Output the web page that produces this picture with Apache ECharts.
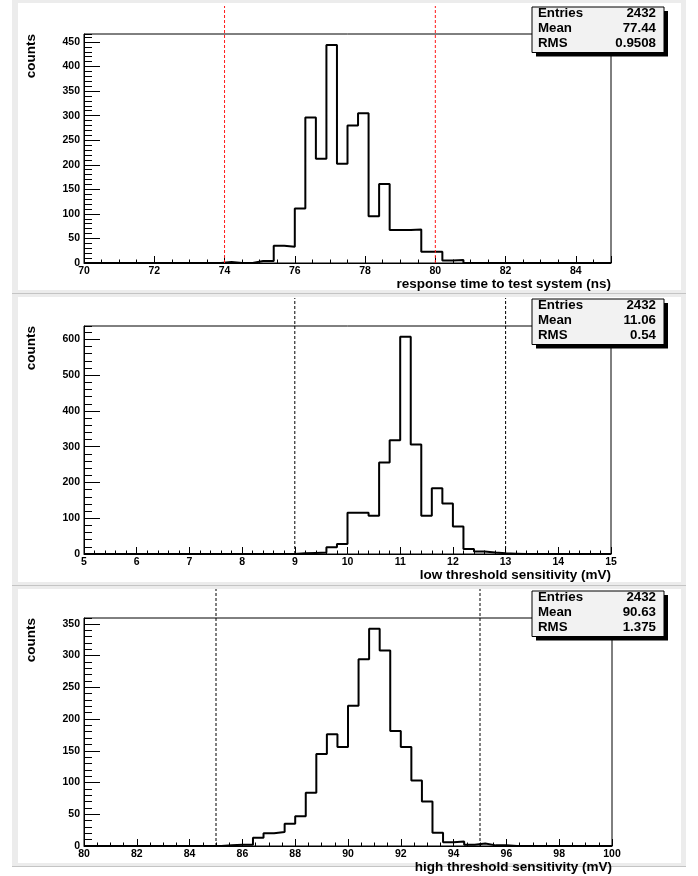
<!DOCTYPE html>
<html>
<head>
<meta charset="utf-8">
<script src="https://cdn.jsdelivr.net/npm/echarts@6/dist/echarts.min.js"></script>
<style>
html,body{margin:0;padding:0;background:#fff;}
#c{width:698px;height:876px;}
</style>
</head>
<body>
<div id="c"></div>
<script>
// ---------- DATA ----------
// Panel 1: response time
const p1Title = 'response time to test system (ns)';
const p1Range = [70, 85];
const p1BinWidth = 0.3;
const p1Counts = [0,0,0,0,0,0,0,0,0,0,0,0,0,2,0,0,4,4,35,33,111,296,212,444,202,280,305,95,161,67,67,68,23,23,5,6,0,0,0,0,0,0,0,0,0,0,0,0,0,0];
const p1Cuts = [74, 80];
const p1StatLabels = ['Entries', 'Mean', 'RMS'];
const p1StatValues = ['2432', '77.44', '0.9508'];
const p1XTicks = [2, 0.5];   // major, minor step
const p1YTicks = [50, 10];

// Panel 2: low threshold
const p2Title = 'low threshold sensitivity (mV)';
const p2Range = [5, 15];
const p2BinWidth = 0.2;
const p2Counts = [0,0,0,0,0,0,0,0,0,0,0,0,0,0,0,0,0,0,0,0,2,3,4,19,28,115,115,107,256,318,607,306,107,184,141,77,14,7,4,2,1,0,0,0,0,0,0,0,0,0];
const p2Cuts = [9, 13];
const p2StatLabels = ['Entries', 'Mean', 'RMS'];
const p2StatValues = ['2432', '11.06', '0.54'];
const p2XTicks = [1, 0.2];
const p2YTicks = [100, 20];

// Panel 3: high threshold
const p3Title = 'high threshold sensitivity (mV)';
const p3Range = [80, 100];
const p3BinWidth = 0.4;
const p3Counts = [0,0,0,0,0,0,0,0,0,0,0,0,0,1,2,2,13,20,22,35,47,84,145,176,156,221,294,342,308,181,156,103,70,21,6,7,2,4,1,1,0,0,0,0,0,0,0,0,0,0];
const p3Cuts = [85, 95];
const p3StatLabels = ['Entries', 'Mean', 'RMS'];
const p3StatValues = ['2432', '90.63', '1.375'];
const p3XTicks = [2, 0.5];
const p3YTicks = [50, 10];

const yTitle = 'counts';

// ---------- LAYOUT ----------
const FONT = '"Liberation Sans", Arial, Helvetica, sans-serif';
const panels = [
  {title:p1Title, range:p1Range, bw:p1BinWidth, counts:p1Counts, cuts:p1Cuts, cutColor:'#ff1a1a',
   sl:p1StatLabels, sv:p1StatValues, xt:p1XTicks, yt:p1YTicks,
   top:34, h:229, w:527, cutTop:6, boxTop:7, bgTop:0, bgBot:293},
  {title:p2Title, range:p2Range, bw:p2BinWidth, counts:p2Counts, cuts:p2Cuts, cutColor:'#000',
   sl:p2StatLabels, sv:p2StatValues, xt:p2XTicks, yt:p2YTicks,
   top:326, h:228, w:527, cutTop:298, boxTop:299, bgTop:294, bgBot:585},
  {title:p3Title, range:p3Range, bw:p3BinWidth, counts:p3Counts, cuts:p3Cuts, cutColor:'#000',
   sl:p3StatLabels, sv:p3StatValues, xt:p3XTicks, yt:p3YTicks,
   top:618, h:228, w:528, cutTop:589, boxTop:591, bgTop:586, bgBot:866}
];

function isMult(v, step){ const r = v/step; return Math.abs(r - Math.round(r)) < 1e-6; }

const grids = [], xAxes = [], yAxes = [], series = [], graphics = [];
const labelStyle = {color:'#000', fontWeight:'bold', fontSize:10.5, fontFamily:FONT};

// backgrounds
panels.forEach(p => {
  graphics.push({type:'rect', z:-20, silent:true, shape:{x:12, y:p.bgTop, width:674, height:p.bgBot - p.bgTop}, style:{fill:'#ececec'}});
  graphics.push({type:'rect', z:-19, silent:true, shape:{x:18, y:p.bgTop + 3, width:663, height:p.bgBot - p.bgTop - 6}, style:{fill:'#ffffff'}});
  graphics.push({type:'line', z:-18, silent:true, shape:{x1:12, y1:p.bgBot + 0.5, x2:686, y2:p.bgBot + 0.5}, style:{stroke:'#c4c4c4', lineWidth:1}});
});

panels.forEach((p, i) => {
  grids.push({left:84, top:p.top, width:p.w, height:p.h, show:true, borderColor:'#000', borderWidth:1, backgroundColor:'transparent'});
});
panels.forEach((p, i) => {
  grids.push({left:84, top:p.cutTop, width:p.w, height:p.top + p.h - p.cutTop});
});

panels.forEach((p, i) => {
  const ymax = Math.max.apply(null, p.counts) * 1.05;
  // major x
  xAxes.push({type:'value', gridIndex:i, position:'bottom', min:p.range[0], max:p.range[1], interval:p.xt[0],
    axisLine:{show:true, onZero:false, lineStyle:{color:'#000', width:1}},
    axisTick:{show:true, inside:true, length:7, lineStyle:{color:'#000', width:1}},
    axisLabel:Object.assign({margin:3, formatter:(v)=> isMult(v, p.xt[0]) ? String(Math.round(v*1000)/1000) : ''}, labelStyle),
    splitLine:{show:false}});
  // minor x
  xAxes.push({type:'value', gridIndex:i, position:'bottom', min:p.range[0], max:p.range[1], interval:p.xt[1],
    axisLine:{show:false, onZero:false}, axisLabel:{show:false},
    axisTick:{show:true, inside:true, length:3.5, lineStyle:{color:'#000', width:1}},
    splitLine:{show:false}});
  // overlay x for cut lines
  xAxes.push({type:'value', gridIndex:3 + i, min:p.range[0], max:p.range[1], show:false});

  // major y
  yAxes.push({type:'value', gridIndex:i, position:'left', min:0, max:ymax, interval:p.yt[0],
    axisLine:{show:true, onZero:false, lineStyle:{color:'#000', width:1}},
    axisTick:{show:true, inside:true, length:16, lineStyle:{color:'#000', width:1}},
    axisLabel:Object.assign({margin:4, showMaxLabel:false, formatter:(v)=> isMult(v, p.yt[0]) ? String(Math.round(v)) : ''}, labelStyle),
    splitLine:{show:false}});
  // minor y
  yAxes.push({type:'value', gridIndex:i, position:'left', min:0, max:ymax, interval:p.yt[1],
    axisLine:{show:false, onZero:false}, axisLabel:{show:false},
    axisTick:{show:true, inside:true, length:8, lineStyle:{color:'#000', width:1}},
    splitLine:{show:false}});
  // overlay y
  yAxes.push({type:'value', gridIndex:3 + i, min:0, max:1, show:false});

  // histogram as step outline
  const pts = [];
  for (let k = 0; k < p.counts.length; k++) {
    pts.push([+(p.range[0] + k * p.bw).toFixed(4), p.counts[k]]);
  }
  pts.push([p.range[1], p.counts[p.counts.length - 1]]);
  series.push({type:'line', xAxisIndex:3*i, yAxisIndex:3*i, data:pts, step:'end', symbol:'none', showSymbol:false,
    lineStyle:{color:'#000', width:2}, z:5, silent:true, animation:false});

  // cut lines
  p.cuts.forEach(c => {
    series.push({type:'line', xAxisIndex:3*i + 2, yAxisIndex:3*i + 2, data:[[c, 0], [c, 1]], symbol:'none', showSymbol:false,
      lineStyle:{color:p.cutColor, width:1, type:[3, 2]}, z:6, silent:true, animation:false, clip:false});
  });

  // axis titles
  graphics.push({type:'text', z:50, x:84 + p.w, y:p.top + p.h + 21.7,
    style:{text:p.title, font:'bold 13.5px ' + FONT, fill:'#000', textAlign:'right', align:'right', textVerticalAlign:'middle', verticalAlign:'middle'}});
  graphics.push({type:'text', z:50, x:31, y:p.top, rotation:Math.PI / 2,
    style:{text:yTitle, font:'bold 13.5px ' + FONT, fill:'#000', textAlign:'right', align:'right', textVerticalAlign:'middle', verticalAlign:'middle'}});

  // stats box
  const bx = 532, by = p.boxTop, bw = 132, bh = 45.5;
  const children = [
    {type:'rect', shape:{x:4, y:4, width:bw, height:bh}, style:{fill:'#000'}},
    {type:'rect', shape:{x:0, y:0, width:bw, height:bh}, style:{fill:'#f2f2f2'}}
  ];
  p.sl.forEach((lab, r) => {
    children.push({type:'text', x:6, y:6 + 15*r,
      style:{text:lab, font:'bold 13.3px ' + FONT, fill:'#000', textAlign:'left', align:'left', textVerticalAlign:'middle', verticalAlign:'middle'}});
    children.push({type:'text', x:124, y:6 + 15*r,
      style:{text:p.sv[r], font:'bold 13.3px ' + FONT, fill:'#000', textAlign:'right', align:'right', textVerticalAlign:'middle', verticalAlign:'middle'}});
  });
  children.push({type:'rect', shape:{x:0, y:0, width:bw, height:bh}, style:{fill:null, stroke:'#000', lineWidth:1}});
  graphics.push({type:'group', x:bx, y:by, z:100, silent:true, children:children});
});

const chart = echarts.init(document.getElementById('c'), null, {renderer:'canvas'});
chart.setOption({
  backgroundColor:'#ffffff',
  animation:false,
  grid:grids,
  xAxis:xAxes,
  yAxis:yAxes,
  series:series,
  graphic:{elements:graphics}
});
</script>
</body>
</html>
